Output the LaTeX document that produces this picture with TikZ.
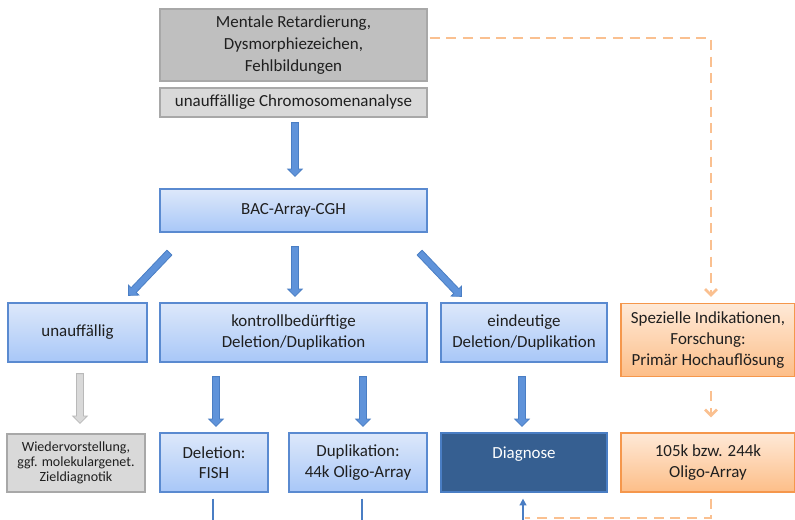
\documentclass[tikz,border=0pt]{standalone}
\usepackage{fontspec}
\setmainfont{Carlito}
\usetikzlibrary{calc,arrows.meta}

\definecolor{txt}{HTML}{1F1F1F}
\definecolor{grayfillA}{HTML}{BFBFBF}
\definecolor{grayfillB}{HTML}{D9D9D9}
\definecolor{grayline}{HTML}{A8A8A8}
\definecolor{bluetop}{HTML}{DDE8FA}
\definecolor{bluebot}{HTML}{A8C7F8}
\definecolor{blueline}{HTML}{5A8AD0}
\definecolor{diagfill}{HTML}{365F91}
\definecolor{orangetop}{HTML}{FEE9D7}
\definecolor{orangebot}{HTML}{FDBE88}
\definecolor{orangeline}{HTML}{F5974C}
\definecolor{orangedash}{HTML}{FAC090}
\definecolor{arrowfill}{HTML}{5F93DA}
\definecolor{arrowline}{HTML}{4A7EC4}

\tikzset{
  box/.style={draw=blueline, line width=0.9pt, top color=bluetop, bottom color=bluebot,
    text=txt, align=center, inner sep=2pt, font=\fontsize{12.7}{15.5}\selectfont},
  graybox/.style={box, draw=grayline, fill=grayfillB, top color=grayfillB, bottom color=grayfillB},
  orangebox/.style={box, draw=orangeline, top color=orangetop, bottom color=orangebot},
  % block arrow drawn as a polygon between two points
  barrow/.style={draw=arrowline, fill=arrowfill, line width=0.6pt, line join=miter,
    to path={
      ($(\tikztostart)!2.6pt!90:(\tikztotarget)$)
      -- ($($(\tikztotarget)!5.5pt!(\tikztostart)$)!2.6pt!-90:(\tikztostart)$)
      -- ($($(\tikztotarget)!5.5pt!(\tikztostart)$)!5.4pt!-90:(\tikztostart)$)
      -- (\tikztotarget)
      -- ($($(\tikztotarget)!5.5pt!(\tikztostart)$)!5.4pt!90:(\tikztostart)$)
      -- ($($(\tikztotarget)!5.5pt!(\tikztostart)$)!2.6pt!90:(\tikztostart)$)
      -- ($(\tikztostart)!2.6pt!-90:(\tikztotarget)$)
      -- cycle}},
  grayarrow/.style={barrow, draw=grayline!80, fill=grayfillB},
  dashlink/.style={draw=orangedash, line width=2.2pt, dash pattern=on 7.5pt off 5pt},
  link/.style={draw=arrowline, line width=1.5pt}
}

\begin{document}
\begin{tikzpicture}[x=0.75pt,y=-0.75pt]
    \clip (0,0) rectangle (795,519);
    \fill[white] (0,0) rectangle (795,519);

    % first rows: findings
    \node[graybox, fill=grayfillA, top color=grayfillA, bottom color=grayfillA,
          minimum width=200.25pt, minimum height=54pt,
          font=\fontsize{12.7}{16.5}\selectfont] (befund) at (293.5,45)
          {Mentale Retardierung,\\Dysmorphiezeichen,\\Fehlbildungen};
    \node[graybox, minimum width=200.25pt, minimum height=21.75pt] (chrom) at (293.5,102.5)
          {unauffällige Chromosomenanalyse};

    % array CGH
    \node[box, minimum width=200.25pt, minimum height=32.25pt] (bac) at (293.5,210.5) {BAC-Array-CGH};

    % results
    \node[box, minimum width=104.25pt, minimum height=44.25pt] (unauff) at (77.5,332.5) {unauffällig};
    \node[box, minimum width=200.25pt, minimum height=44.25pt] (kontr) at (293.5,332.5)
          {kontrollbedürftige\\Deletion/Duplikation};
    \node[box, minimum width=124.5pt, minimum height=44.25pt] (eind) at (524,332.5)
          {eindeutige\\Deletion/Duplikation};
    \node[orangebox, minimum width=130.5pt, minimum height=54.75pt,
          font=\fontsize{12.7}{16}\selectfont] (spez) at (708,340)
          {Spezielle Indikationen,\\Forschung:\\Primär Hochauflösung};

    % follow-up
    \node[graybox, minimum width=103.5pt, minimum height=43.5pt,
          font=\fontsize{10.5}{11.25}\selectfont] (wieder) at (76,463)
          {Wiedervorstellung,\\ggf. molekulargenet.\\Zieldiagnotik};
    \node[box, minimum width=81pt, minimum height=44.25pt] (fish) at (214,462.5) {Deletion:\\FISH};
    \node[box, minimum width=103.5pt, minimum height=44.25pt] (dup) at (358,462.5)
          {Duplikation:\\44k Oligo-Array};
    \node[box, draw=arrowline, fill=diagfill, top color=diagfill, bottom color=diagfill, text=white,
          minimum width=124.5pt, minimum height=44.25pt] (diag) at (524,462.5) {Diagnose\\\phantom{X}};
    \node[orangebox, minimum width=130.5pt, minimum height=44.25pt] (oligo) at (708,462.5)
          {105k bzw. 244k\\Oligo-Array};

    % block arrows
    \draw[barrow] ($(chrom.south)+(1.5,5)$) to ($(bac.north)+(1.5,-12)$);
    \draw[barrow] ($(bac.south west)+(10,20)$) to ($(unauff.north east)+(-19,-7)$);
    \draw[barrow] ($(bac.south)+(1.5,14)$) to ($(kontr.north)+(1.5,-6)$);
    \draw[barrow] ($(bac.south east)+(-8,20)$) to ($(eind.north west)+(21,-6)$);
    \draw[grayarrow] ($(unauff.south)+(2.5,11)$) to ($(wieder.north)+(4,-10)$);
    \draw[barrow] ($(kontr.south -| fish.north)+(2,14)$) to ($(fish.north)+(2,-6)$);
    \draw[barrow] ($(kontr.south -| dup.north)+(5,14)$) to ($(dup.north)+(5,-6)$);
    \draw[barrow] ($(eind.south)+(-2,14)$) to ($(diag.north)+(-2,-6)$);

    % high resolution branch
    \draw[dashlink, -{Straight Barb[length=4.5pt,width=9pt,line width=2pt]}]
          ($(befund.east)+(2,-7)$) -| ($(spez.north)+(3,-6)$);
    \draw[dashlink, -{Straight Barb[length=4.5pt,width=9pt,line width=2pt]}]
          ($(spez.south)+(3,14)$) -- ($(oligo.north)+(3,-15)$);

    % bottom connections
    \coordinate (bus) at (0,521);
    \draw[link] ($(fish.south)+(-1,6)$) -- ($(fish.south |- bus)+(-1,0)$);
    \draw[link] ($(dup.south)+(4,6)$) -- ($(dup.south |- bus)+(4,0)$);
    \draw[link] ($(fish.south |- bus)+(-1,0)$) -- ($(diag.south |- bus)+(-1,0)$);
    \draw[link, -{Triangle[length=5pt,width=5pt]}] ($(diag.south |- bus)+(-1,0)$) -- ($(diag.south)+(-1,6)$);
    \draw[dashlink] ($(oligo.south)+(3,6)$) |- ($(diag.south |- bus)+(1,-3)$);
\end{tikzpicture}
\end{document}
